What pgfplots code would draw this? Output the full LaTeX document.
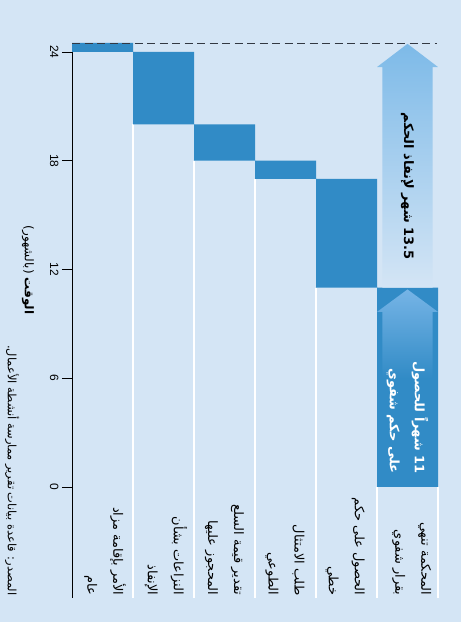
\documentclass[border=0pt]{standalone}
\usepackage{fontspec}
\usepackage{pgfplots}
\pgfplotsset{compat=1.18}
\setmainfont{Liberation Sans}
\newfontfamily\arabicfont[Script=Arabic]{DejaVu Sans}
\TeXXeTstate=1
\newcommand{\ar}[1]{{\arabicfont\beginR #1\endR}}
\definecolor{bg}{RGB}{212,229,245}
\definecolor{barc}{RGB}{49,139,198}
\definecolor{dashc}{RGB}{50,56,66}
\definecolor{arrtop}{RGB}{118,180,230}
\definecolor{arrtopb}{RGB}{125,186,232}
\begin{document}
\begin{tikzpicture}[x=1bp,y=1bp]
\fill[bg] (-72,-135) rectangle (389,487);
\useasboundingbox (-72,-135) rectangle (389,487);
% white separators (behind the bars)
\begin{scope}[x=61bp, y=18.125bp]
\draw[white, line width=1.2bp] (1,-6.12) -- (1,20);
\draw[white, line width=1.2bp] (2,-6.12) -- (2,18);
\draw[white, line width=1.2bp] (3,-6.12) -- (3,17);
\draw[white, line width=1.2bp] (4,-6.12) -- (4,11);
\draw[white, line width=1.2bp] (5,-6.12) -- (5,0);
\draw[white, line width=1.2bp] (6,-6.12) -- (6,0);
\end{scope}
\begin{axis}[
  at={(0,0)}, anchor=origin,
  x=61bp, y=18.125bp,
  xmin=0, xmax=6, ymin=-6.12, ymax=24.5,
  axis y line*=left, axis x line=none,
  axis line style={black, line width=1bp},
  ytick={0,6,12,18,24},
  tick align=outside,
  major tick length=10bp,
  ytick style={black, line width=0.8bp},
  yticklabel style={rotate=-90, anchor=north, font=\fontsize{12}{14}\selectfont},
  /pgf/number format/assume math mode=true,
  clip=false,
  ybar stacked, bar width=1,
]
% waterfall: invisible base + visible step
\addplot[draw=none, fill=none] coordinates {(0.5,24) (1.5,20) (2.5,18) (3.5,17) (4.5,11) (5.5,0)};
\addplot[draw=none, fill=barc] coordinates {(0.5,0.5) (1.5,4) (2.5,2) (3.5,1) (4.5,6) (5.5,11)};
\end{axis}
\begin{scope}[x=61bp, y=18.125bp]
% arrows
\shade[top color=arrtopb, bottom color=bg]
  (5.09,11) -- (5.09,23.17) -- (5.0,23.17) -- (5.5,24.45)
  -- (6.0,23.17) -- (5.91,23.17) -- (5.91,11) -- cycle;
\shade[top color=arrtop, bottom color=barc]
  (5.09,6) -- (5.09,9.66) -- (5.0,9.66) -- (5.5,10.9)
  -- (6.0,9.66) -- (5.91,9.66) -- (5.91,6) -- cycle;
% dashed total line
\draw[dashc, line width=1.7bp, dash pattern=on 8bp off 4.5bp] (0,24.47) -- (5.98,24.47);
% arrow texts
\node[rotate=-90, font=\fontsize{13}{15}\selectfont\bfseries, black] at (5.5,16.6)
  {\ar{\beginL 13.5\endL{} شهر لإنفاذ الحكم}};
\node[rotate=-90, anchor=east, align=right, font=\fontsize{13}{25}\selectfont\bfseries, white] at (5.5,0.55)
  {\ar{\beginL 11\endL{} شهراً للحصول}\\\ar{على حكم شفوي}};
% category labels
\tikzset{catlab/.style={rotate=-90, anchor=east, align=right, inner sep=1bp, font=\fontsize{13}{26}\selectfont, black}}
\node[catlab] at (0.54,-6.05) {\ar{الأمر بإقامة مزاد}\\\ar{عام}};
\node[catlab] at (1.54,-6.05) {\ar{النزاعات بشأن}\\\ar{الإنفاذ}};
\node[catlab] at (2.5,-6.05) {\ar{تقدير قيمة السلع}\\\ar{المحجوز عليها}};
\node[catlab] at (3.49,-6.05) {\ar{طلب الامتثال}\\\ar{الطوعي}};
\node[catlab] at (4.48,-6.05) {\ar{الحصول على حكم}\\\ar{خطي}};
\node[catlab] at (5.57,-6.05) {\ar{المحكمة تنهي}\\\ar{بقرار شفوي}};
% axis title and source
\node[rotate=-90, font=\fontsize{12}{14}\selectfont] at (-0.72,11.97)
  {\ar{\textbf{الوقت} (بالشهور)}};
\node[rotate=-90, anchor=east, inner sep=1bp, font=\fontsize{11.5}{13}\selectfont] at (-0.98,-6.05)
  {\ar{المصدر: قاعدة بيانات تقرير ممارسة أنشطة الأعمال.}};
\end{scope}
\end{tikzpicture}
\end{document}
